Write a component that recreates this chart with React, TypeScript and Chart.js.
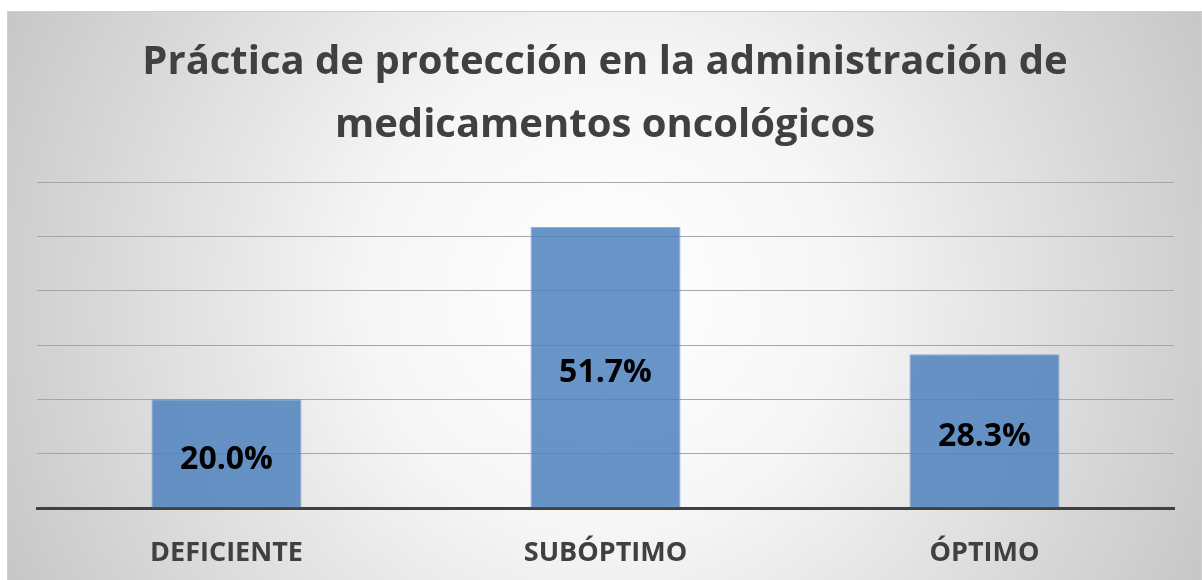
import React, { useEffect, useRef } from "react";
import { Chart, registerables } from "chart.js";

Chart.register(...registerables);

const titleLines = ["Práctica de protección en la administración de", "medicamentos oncológicos"];
const categories = ["DEFICIENTE", "SUBÓPTIMO", "ÓPTIMO"];
const values = [20.0, 51.7, 28.3];
const yMin = 0;
const yMax = 60;
const yStep = 10;

const FONT = "'Open Sans', 'Noto Sans', sans-serif";
const VIS_H = 569;

const bgPlugin = {
  id: "bgPlugin",
  beforeDraw(chart: any) {
    const { ctx, width, height } = chart;
    ctx.save();
    const g = ctx.createRadialGradient(width / 2, VIS_H / 2, 0, width / 2, VIS_H / 2, width * 0.56);
    g.addColorStop(0, "#ffffff");
    g.addColorStop(0.35, "#f6f6f6");
    g.addColorStop(1, "#c6c6c6");
    ctx.fillStyle = g;
    ctx.fillRect(0, 0, width, height);
    ctx.strokeStyle = "#d0d0d0";
    ctx.lineWidth = 1;
    ctx.strokeRect(0.5, 0.5, width - 1, height - 1);
    ctx.restore();
  },
  afterDraw(chart: any) {
    const { ctx } = chart;
    ctx.save();
    ctx.fillStyle = "#404040";
    ctx.font = `bold 40px ${FONT}`;
    ctx.textAlign = "center";
    ctx.textBaseline = "middle";
    titleLines.forEach((t, i) => ctx.fillText(t, 605 - 7, 52 + i * 63));
    const meta = chart.getDatasetMeta(0);
    ctx.fillStyle = "#000000";
    ctx.font = `bold 32px ${FONT}`;
    meta.data.forEach((bar: any, i: number) => {
      const p = bar.getProps(["x", "y", "base"], true);
      ctx.fillText(values[i].toFixed(1) + "%", p.x, (p.y + p.base) / 2 + 6);
    });
    ctx.restore();
  },
};

export default function App() {
  const ref = useRef<HTMLCanvasElement>(null);
  useEffect(() => {
    document.body.style.margin = "0";
    document.body.style.overflow = "hidden";
    const chart = new Chart(ref.current!, {
      type: "bar",
      data: {
        labels: categories,
        datasets: [
          {
            data: values,
            backgroundColor: "rgba(79,129,189,0.85)",
            borderColor: "rgba(79,129,189,0.6)",
            borderWidth: 1,
            categoryPercentage: 1,
            barPercentage: 0.396,
          },
        ],
      },
      options: {
        animation: false,
        responsive: false,
        layout: { padding: { top: 171, left: 30, right: 28, bottom: 0 } },
        plugins: { legend: { display: false }, title: { display: false }, tooltip: { enabled: false } },
        scales: {
          x: {
            grid: { display: false, drawTicks: false },
            border: { display: true, color: "#404040", width: 3 },
            ticks: { color: "#404040", font: { family: FONT, size: 27, weight: "bold", lineHeight: 1 }, padding: 32 },
          },
          y: {
            min: yMin,
            max: yMax,
            ticks: { display: false, stepSize: yStep },
            grid: { color: "#a6a6a6", lineWidth: 1, drawTicks: false },
            border: { display: false },
          },
        },
      },
      plugins: [bgPlugin],
    });
    return () => chart.destroy();
  }, []);
  return (
    <div style={{ marginLeft: 7, marginTop: 11, width: 1195, height: 588 }}>
      <canvas ref={ref} width={1195} height={588} style={{ display: "block" }} />
    </div>
  );
}
